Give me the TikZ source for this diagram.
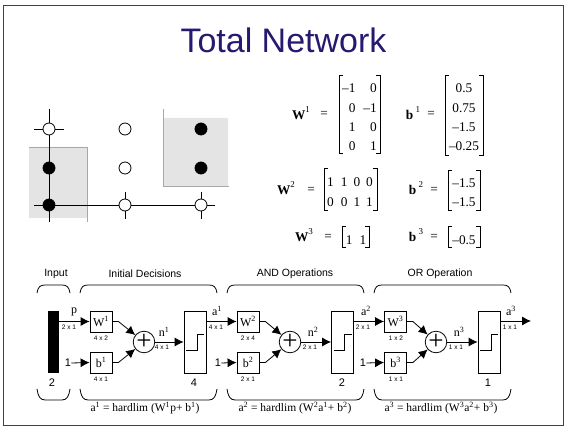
\documentclass[tikz,border=0pt]{standalone}
\usepackage{fontspec}
\setmainfont{Liberation Serif}
\newfontfamily\helv{Liberation Sans}
\usepackage{tikz}
\usetikzlibrary{arrows.meta}
\definecolor{titleblue}{HTML}{281870}
\definecolor{regiongray}{HTML}{E4E4E4}
\definecolor{regionedge}{HTML}{A8A8A8}
\tikzset{
	sig/.style={-{Latex[length=9pt,width=9pt]}, line width=0.8pt},
	wire/.style={line width=0.8pt},
	block/.style={draw, line width=0.8pt, fill=white, inner sep=0pt, minimum width=22pt, minimum height=21pt, font=\fontsize{12}{12}\selectfont},
	limbox/.style={draw, line width=0.8pt, inner sep=0pt, minimum width=22pt, minimum height=62pt},
	sumcirc/.style={draw, circle, line width=0.8pt, inner sep=0pt, minimum size=21pt, font=\fontsize{27}{27}\selectfont},
	dimlabel/.style={font=\helv\fontsize{6.5}{7}\selectfont, inner sep=0pt},
	siglabel/.style={font=\fontsize{12}{12}\selectfont, inner sep=0pt},
	numlabel/.style={font=\helv\fontsize{11}{11}\selectfont, inner sep=0pt},
	grouplabel/.style={font=\helv\fontsize{10.5}{11}\selectfont, inner sep=0pt},
	eqlabel/.style={font=\fontsize{11.5}{12}\selectfont, inner sep=0pt},
	matlabel/.style={font=\fontsize{13.3}{19.3}\selectfont, inner sep=0pt},
	bracket/.style={line width=1pt},
	testpt/.style={circle, draw, line width=0.8pt, minimum size=12pt, inner sep=0pt},
}
\newcommand{\brackets}[4]{
	\draw[bracket] (#1+4, #3) -- (#1, #3) -- (#1, #4) -- (#1+4, #4);
	\draw[bracket] (#2-4, #3) -- (#2, #3) -- (#2, #4) -- (#2-4, #4);
}
% top brace and bottom brace of one group
\newcommand{\groupbrace}[2]{
	\draw[wire] (#1, 293) .. controls (#1+1, 287) and (#1+3, 285) .. (#1+8, 285) -- (#2-8, 285) .. controls (#2-3, 285) and (#2-1, 287) .. (#2, 293);
	\draw[wire] (#1, 389) .. controls (#1+1, 396) and (#1+3, 400) .. (#1+8, 400) -- (#2-8, 400) .. controls (#2-3, 400) and (#2-1, 396) .. (#2, 389);
}
\newcommand{\up}[1]{\textsuperscript{#1}}
\newcommand{\matup}[1]{\raisebox{1.2ex}{\fontsize{9}{9}\selectfont #1}}
\begin{document}
\begin{tikzpicture}[x=1pt, y=-1pt]
\useasboundingbox (0,0) rectangle (564,427);
\draw[line width=0.8pt, black!75] (3,5) rectangle (563,425);
\node[text=titleblue, font=\helv\fontsize{34}{34}\selectfont, inner sep=0pt, anchor=base] (title) at (283.5,53) {Total Network};

% decision regions
\fill[regiongray] (29,147) rectangle (87,218) (163,118) rectangle (228,186);
\draw[regionedge, line width=0.9pt] (29,147) -- (87,147) -- (87,222);
\draw[regionedge, line width=0.9pt] (163,109) -- (163,186) -- (229,186);
\draw[line width=0.9pt] (49,109) -- (49,222) (34,205) -- (215,205);
\draw[line width=0.9pt] (34,129) -- (64,129) (125,192) -- (125,219) (201,192) -- (201,219);
\foreach \px/\py in {49/129, 125/129, 125/168, 125/205, 201/205} {
	\node[testpt, fill=white] (open\px\py) at (\px,\py) {};
};
\foreach \px/\py in {49/168, 49/205, 201/129, 201/168} {
	\node[testpt, fill=black] (full\px\py) at (\px,\py) {};
};

% weights and biases
\node[matlabel] (wa) at (301,113) {\textbf{W}\matup{1}};
\node[matlabel] (wb) at (286,188) {\textbf{W}\matup{2}};
\node[matlabel] (wc) at (304,235) {\textbf{W}\matup{3}};
\node[matlabel] (ba) at (413,113) {\textbf{b}\,\matup{1}};
\node[matlabel] (bb) at (416,188) {\textbf{b}\,\matup{2}};
\node[matlabel] (bc) at (416,235) {\textbf{b}\,\matup{3}};
\foreach \ex/\ey/\ename in {324/114/ea, 311/190/eb, 328/237/ec, 431/114/ed, 434/190/ee, 434/237/ef} {
	\node[matlabel] (\ename) at (\ex,\ey) {=};
};
\brackets{339}{380}{76}{154}
\brackets{445}{483}{76}{156}
\brackets{324}{377}{169}{211}
\brackets{448}{480}{171}{211}
\brackets{342}{369}{227}{248}
\brackets{448}{480}{227}{248}
\node[matlabel] (wone) at (359.5,118) {\begin{tabular}{@{}r@{\hspace{8pt}}r@{}}--1&0\\0&--1\\1&0\\0&1\end{tabular}};
\node[matlabel] (bone) at (464,118) {\begin{tabular}{@{}c@{}}0.5\\0.75\\--1.5\\--0.25\end{tabular}};
\node[matlabel] (wtwo) at (350,192.5) {\begin{tabular}{@{}c@{\hspace{7pt}}c@{\hspace{6pt}}c@{\hspace{6pt}}c@{}}1&1&0&0\\0&0&1&1\end{tabular}};
\node[matlabel] (btwo) at (464,193) {\begin{tabular}{@{}c@{}}--1.5\\--1.5\end{tabular}};
\node[matlabel] (wthree) at (356,240) {1\hspace{7pt}1};
\node[matlabel] (bthree) at (464,240) {--0.5};

% network
\node[grouplabel] (inlabel) at (56,274) {Input};
\node[grouplabel] (idlabel) at (145,274) {Initial Decisions};
\node[grouplabel] (andlabel) at (295,274) {AND Operations};
\node[grouplabel] (orlabel) at (440,274) {OR Operation};
\groupbrace{37}{70}
\groupbrace{80}{217}
\groupbrace{227}{364}
\groupbrace{374}{511}

\node[fill=black, inner sep=0pt, minimum width=11pt, minimum height=62pt] (inbar) at (53.5,342) {};
\node[numlabel] (insize) at (52,383) {2};

\node[block] (wfirst) at (101,321.5) {W\up{1}};
\node[block] (bfirst) at (101,362.5) {b\up{1}};
\node[sumcirc] (sumfirst) at (144,342) {+};
\node[limbox] (limfirst) at (195,342) {};
\node[numlabel] (onefirst) at (68,363) {1};
\node[numlabel] (sizefirst) at (194,383) {4};

\node[block] (wsecond) at (248,321.5) {W\up{2}};
\node[block] (bsecond) at (248,362.5) {b\up{2}};
\node[sumcirc] (sumsecond) at (290,342) {+};
\node[limbox] (limsecond) at (342.5,342) {};
\node[numlabel] (onesecond) at (218,363) {1};
\node[numlabel] (sizesecond) at (342,383) {2};

\node[block] (wthird) at (395.5,321.5) {W\up{3}};
\node[block] (bthird) at (395.5,362.5) {b\up{3}};
\node[sumcirc] (sumthird) at (436,342) {+};
\node[limbox] (limthird) at (489,342) {};
\node[numlabel] (onethird) at (363,363) {1};
\node[numlabel] (sizethird) at (488,383) {1};
\coordinate (outend) at (531,321);

\draw[sig] (inbar.east |- wfirst.west) -- (wfirst.west);
\draw[sig] (onefirst.east) -- (bfirst.west);
\draw[sig] (wfirst.east) -- ++(6,0) -- (sumfirst);
\draw[sig] (bfirst.east) -- ++(6,0) -- (sumfirst);
\draw[sig] (sumfirst.east) -- (limfirst.west);
\draw[sig] (limfirst.east |- wsecond.west) -- (wsecond.west);
\draw[sig] (onesecond.east) -- (bsecond.west);
\draw[sig] (wsecond.east) -- ++(6,0) -- (sumsecond);
\draw[sig] (bsecond.east) -- ++(6,0) -- (sumsecond);
\draw[sig] (sumsecond.east) -- (limsecond.west);
\draw[sig] (limsecond.east |- wthird.west) -- (wthird.west);
\draw[sig] (onethird.east) -- (bthird.west);
\draw[sig] (wthird.east) -- ++(6,0) -- (sumthird);
\draw[sig] (bthird.east) -- ++(6,0) -- (sumthird);
\draw[sig] (sumthird.east) -- (limthird.west);
\draw[sig] (limthird.east |- outend) -- (outend);

% hard limit steps
\foreach \bx in {195, 342.5, 489} {
	\draw[line width=0.8pt] (\bx-9,350) -- (\bx+2,350) -- (\bx+2,334) -- (\bx+9,334);
};

\node[siglabel] (plabel) at (74,312) {p};
\node[siglabel] (aone) at (217,311) {a\up{1}};
\node[siglabel] (atwo) at (366,311) {a\up{2}};
\node[siglabel] (athree) at (511,311) {a\up{3}};
\node[siglabel] (none) at (164,332) {n\up{1}};
\node[siglabel] (ntwo) at (313,332) {n\up{2}};
\node[siglabel] (nthree) at (459,332) {n\up{3}};
\foreach \dx/\dy/\dtext/\dname in {69/327/2 x 1/da, 101/338/4 x 2/db, 101/379/4 x 1/dc, 162/347/4 x 1/dd, 216/327/4 x 1/de,
	248/338/2 x 4/df, 248/379/2 x 1/dg, 310/347/2 x 1/dh, 363/327/2 x 1/di,
	396/338/1 x 2/dj, 396/379/1 x 1/dk, 456/347/1 x 1/dl, 510/327/1 x 1/dm} {
	\node[dimlabel] (\dname) at (\dx,\dy) {\dtext};
};

\node[eqlabel] (eqone) at (145,408) {a\up{1} = hardlim (W\up{1}p+ b\up{1})};
\node[eqlabel] (eqtwo) at (295,408) {a\up{2} = hardlim (W\up{2}a\up{1}+ b\up{2})};
\node[eqlabel] (eqthree) at (441,408) {a\up{3} = hardlim (W\up{3}a\up{2}+ b\up{3})};
\end{tikzpicture}
\end{document}
